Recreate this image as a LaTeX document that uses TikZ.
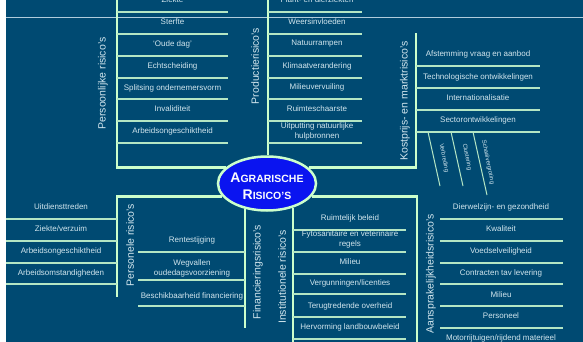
\documentclass[tikz,border=0pt]{standalone}
\usepackage{fontspec}
\setmainfont{Liberation Sans}
\usetikzlibrary{calc,shapes.geometric}
\definecolor{deepsea}{HTML}{004A72}
\definecolor{mint}{HTML}{CCFFCC}
\definecolor{palemint}{HTML}{B4E6C4}
\definecolor{frost}{HTML}{D2E6EE}
\definecolor{hubblue}{HTML}{0A14F0}
\definecolor{slide}{HTML}{B0CCDC}
\tikzset{
  trunk/.style={mint, line width=2.8pt},
  twig/.style={palemint, line width=1.3pt},
  item/.style={text=frost, font=\fontsize{8}{9.5}\selectfont, align=center, inner sep=0pt},
  branch/.style={text=frost, font=\fontsize{10.5}{12}\selectfont, rotate=90, inner sep=0pt},
  slant/.style={text=frost, font=\fontsize{6}{7}\selectfont, rotate=-79, inner sep=0pt},
  hub/.style={ellipse, draw=mint, fill=hubblue, line width=2.5pt,
    minimum width=98pt, minimum height=54pt, inner sep=0pt},
  hubtext/.style={text=white!90!frost, font=\bfseries\fontsize{10.5}{17}\selectfont, align=center, inner sep=0pt}
}
\newcommand{\capword}[2]{{\fontsize{14}{17}\selectfont #1}#2}

\begin{document}
\begin{tikzpicture}[x=1pt,y=-1pt]
\useasboundingbox (0,0) rectangle (583,342);
\fill[white] (0,0) rectangle (583,342);
\fill[deepsea] (6,0) rectangle (583,342);
\draw[slide, line width=0.8pt] (6,17) -- (583,17);

% centre
\node[hub] (hub) at (267,183.5) {};
\node[hubtext] (title) at ($(hub.center)+(0,3)$) {\capword{A}{GRARISCHE}\\\capword{R}{ISICO'S}};

% main branches
\coordinate (pl-top) at (117,0);
\coordinate (pr-top) at (268,0);
\coordinate (km-top) at (416,33);
\coordinate (pe-end) at (117,297);
\coordinate (fi-end) at (245,328);
\coordinate (in-end) at (293,342);
\coordinate (aa-end) at (417,342);
\draw[trunk] (hub.159) -| (pl-top);
\draw[trunk] (pr-top) -- (pr-top |- hub.north);
\draw[trunk] (hub.21) -| (km-top);
\draw[trunk] (hub.196) -| (pe-end);
\draw[trunk] (hub.229) -- (hub.229 |- fi-end);
\draw[trunk] (hub.-43) -- (hub.-43 |- in-end);
\draw[trunk] (hub.-16) -| (aa-end);

\node[branch] (pl) at (103,83.5) {Persoonlijke risico's};
\node[branch] (pr) at (255,66) {Productierisico's};
\node[branch] (km) at (405,101) {Kostprijs- en marktrisico's};
\node[branch] (pe) at (130,245) {Personele risico's};
\node[branch] (fi) at (258,272) {Financieringsrisico's};
\node[branch] (in) at (282,277) {Institutionele risico's};
\node[branch] (aa) at (431,274) {Aansprakelijkheidsrisico's};

% persoonlijke risico's
\foreach \y in {12,34,56,78,99,121,143}
  \draw[twig] (117,\y) -- (228,\y);
\foreach \y/\t [count=\i] in {0/Ziekte, 22/Sterfte, 44/‘Oude dag’, 66/Echtscheiding,
    88/Splitsing ondernemersvorm, 109/Invaliditeit, 131/Arbeidsongeschiktheid}
  \node[item] (pl-\i) at (172.5,\y) {\t};

% productierisico's
\foreach \y in {12,34,56,78,99,121,143}
  \draw[twig] (268,\y) -- (362,\y);
\foreach \y/\t [count=\i] in {0/Plant- en dierziekten, 22/Weersinvloeden, 44/Natuurrampen,
    66/Klimaatverandering, 87/Milieuvervuiling, 109/Ruimteschaarste,
    131.5/Uitputting natuurlijke\\hulpbronnen}
  \node[item] (pr-\i) at (317,\y) {\t};

% kostprijs- en marktrisico's
\foreach \y in {66,88,110,132}
  \draw[twig] (416,\y) -- (540,\y);
\foreach \y/\t [count=\i] in {54/Afstemming vraag en aanbod, 77/Technologische ontwikkelingen,
    98/Internationalisatie, 120/Sectorontwikkelingen}
  \node[item] (km-\i) at (478,\y) {\t};
\foreach \xa/\xb/\yb/\xt/\yt/\t [count=\i] in {428/440/186/444/158/Verbreding,
    451/463/186/467/157/Clustering, 473/487/195/488/162/Schaalvergroting}{
  \coordinate (sec-\i) at (\xb,\yb);
  \draw[twig, line width=1pt] (\xa,132) -- (sec-\i);
  \node[slant] (sl-\i) at (\xt,\yt) {\t};
}

% personele risico's
\foreach \y in {219,241,263,284}
  \draw[twig] (6,\y) -- (117,\y);
\foreach \y/\t [count=\i] in {207/Uitdiensttreden, 229/{Ziekte/verzuim},
    251/Arbeidsongeschiktheid, 273/Arbeidsomstandigheden}
  \node[item] (pe-\i) at (61,\y) {\t};

% financieringsrisico's
\foreach \y in {252,280,306}
  \draw[twig] (138,\y) -- (245,\y);
\foreach \y/\t [count=\i] in {240/Rentestijging, 268.5/Wegvallen\\oudedagsvoorziening,
    296/Beschikbaarheid financiering}
  \node[item] (fi-\i) at (192,\y) {\t};

% institutionele risico's
\foreach \y in {230,252,274,294,317,339}
  \draw[twig] (293,\y) -- (406,\y);
\foreach \y/\t [count=\i] in {218/Ruimtelijk beleid, 239.5/Fytosanitaire en veterinaire\\regels,
    262/Milieu, 283/{Vergunningen/licenties}, 306/Terugtredende overheid,
    327/Hervorming landbouwbeleid}
  \node[item] (in-\i) at (350,\y) {\t};

% aansprakelijkheidsrisico's
\foreach \y in {219,241,263,284,306,328}
  \draw[twig] (440,\y) -- (563,\y);
\foreach \y/\t [count=\i] in {207/Dierwelzijn- en gezondheid, 229/Kwaliteit, 251/Voedselveiligheid,
    273/Contracten tav levering, 295/Milieu, 316/Personeel,
    338/{Motorrijtuigen/rijdend materieel}}
  \node[item] (aa-\i) at (501,\y) {\t};
\end{tikzpicture}
\end{document}
